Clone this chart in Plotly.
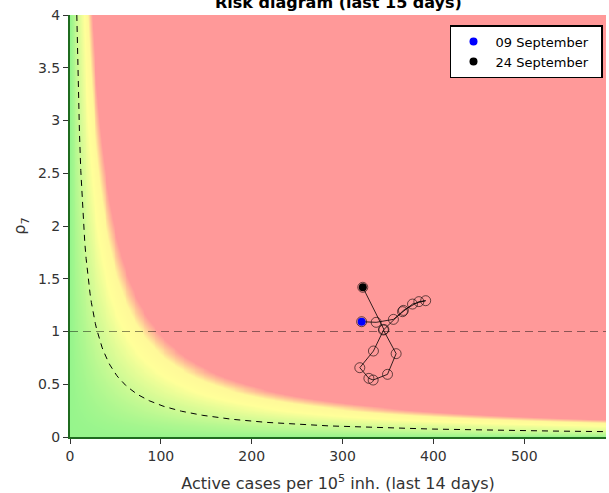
import numpy as np
import plotly.graph_objects as go

# Trajectory (active cases per 1e5 inh. over 14 days, rho_7), first = 09 Sep, last = 24 Sep
cases = [321, 337, 356, 366, 377, 391.5, 384, 367, 345, 359, 349.5, 333.7, 329, 319, 334, 345.5, 322.3]
rho = [1.093, 1.087, 1.115, 1.188, 1.26, 1.292, 1.283, 1.20, 1.014, 0.79, 0.594, 0.54, 0.556, 0.657, 0.815, 1.02, 1.419]
start_label = "09 September"
end_label = "24 September"

# Risk background (risk = cases * rho), colour stops by risk level
risk_levels = [0, 30, 60, 78, 88, 97, 120]
risk_colors = ["rgb(150,245,140)", "rgb(205,250,148)", "rgb(255,255,153)", "rgb(255,248,153)",
               "rgb(255,195,152)", "rgb(255,153,153)", "rgb(255,153,153)"]
risk_curve = 30
x_max, y_max = 590, 4
x_ticks = [0, 100, 200, 300, 400, 500]
y_ticks = [0, 0.5, 1, 1.5, 2, 2.5, 3, 3.5, 4]

gx = np.linspace(0, x_max, 296)
gy = np.linspace(0, y_max, 201)
Z = np.clip(np.outer(gy, gx), 0, risk_levels[-1])
cscale = [[lv / risk_levels[-1], c] for lv, c in zip(risk_levels, risk_colors)]

fig = go.Figure()
fig.add_trace(go.Heatmap(x=gx, y=gy, z=Z, colorscale=cscale, zmin=0, zmax=risk_levels[-1],
                         zsmooth="best", showscale=False, hoverinfo="skip"))

hx = np.linspace(risk_curve / y_max, x_max, 400)
fig.add_trace(go.Scatter(x=hx, y=risk_curve / hx, mode="lines", showlegend=False,
                         line=dict(color="black", width=1, dash="6px,5px"), hoverinfo="skip"))

fig.add_hline(y=1, line=dict(color="rgba(0,0,0,0.45)", width=1, dash="8px,5px"))

fig.add_trace(go.Scatter(x=cases, y=rho, mode="lines+markers", showlegend=False,
                         line=dict(color="black", width=0.8),
                         marker=dict(symbol="circle-open", size=10, color="rgba(0,0,0,0.75)",
                                     line=dict(width=0.8))))
pad = "\u00a0\u00a0"
fig.add_trace(go.Scatter(x=[cases[0]], y=[rho[0]], mode="markers", name=start_label + pad,
                         marker=dict(color="blue", size=8)))
fig.add_trace(go.Scatter(x=[cases[-1]], y=[rho[-1]], mode="markers", name=end_label + pad,
                         marker=dict(color="black", size=8)))

fig.update_layout(
    width=609, height=493,
    margin=dict(l=70, r=3, t=15, b=56),
    paper_bgcolor="white", plot_bgcolor="white",
    font=dict(family="DejaVu Sans", size=14, color="#333333"),
    legend=dict(x=0.9944, y=0.976, xanchor="right", yanchor="top",
                bgcolor="white", bordercolor="black", borderwidth=1.5,
                font=dict(size=13, color="black"), itemwidth=34, tracegroupgap=0),
    xaxis=dict(range=[0, x_max], tickvals=x_ticks, ticks="outside", ticklen=5,
               tickcolor="#333333", showgrid=False, zeroline=False, showline=True,
               linecolor="#1f6b1f", linewidth=2,
               title=dict(text="Active cases per 10<sup>5</sup> inh. (last 14 days)",
                          font=dict(size=16), standoff=16)),
    yaxis=dict(range=[0, y_max], tickvals=y_ticks, ticks="outside", ticklen=5,
               tickcolor="#333333", showgrid=False, zeroline=False, showline=True,
               linecolor="#1f6b1f", linewidth=2,
               title=dict(text="ρ<sub>7</sub>", font=dict(size=16), standoff=8)),
    annotations=[dict(text="<b>Risk diagram (last 15 days)</b>", xref="paper", yref="paper",
                      x=0.5, y=1, xanchor="center", yanchor="bottom", yshift=1,
                      showarrow=False, font=dict(size=16, color="black"))],
)

fig.write_html("out.html", config={"displayModeBar": False},
               post_script="document.body.style.margin='0';")
